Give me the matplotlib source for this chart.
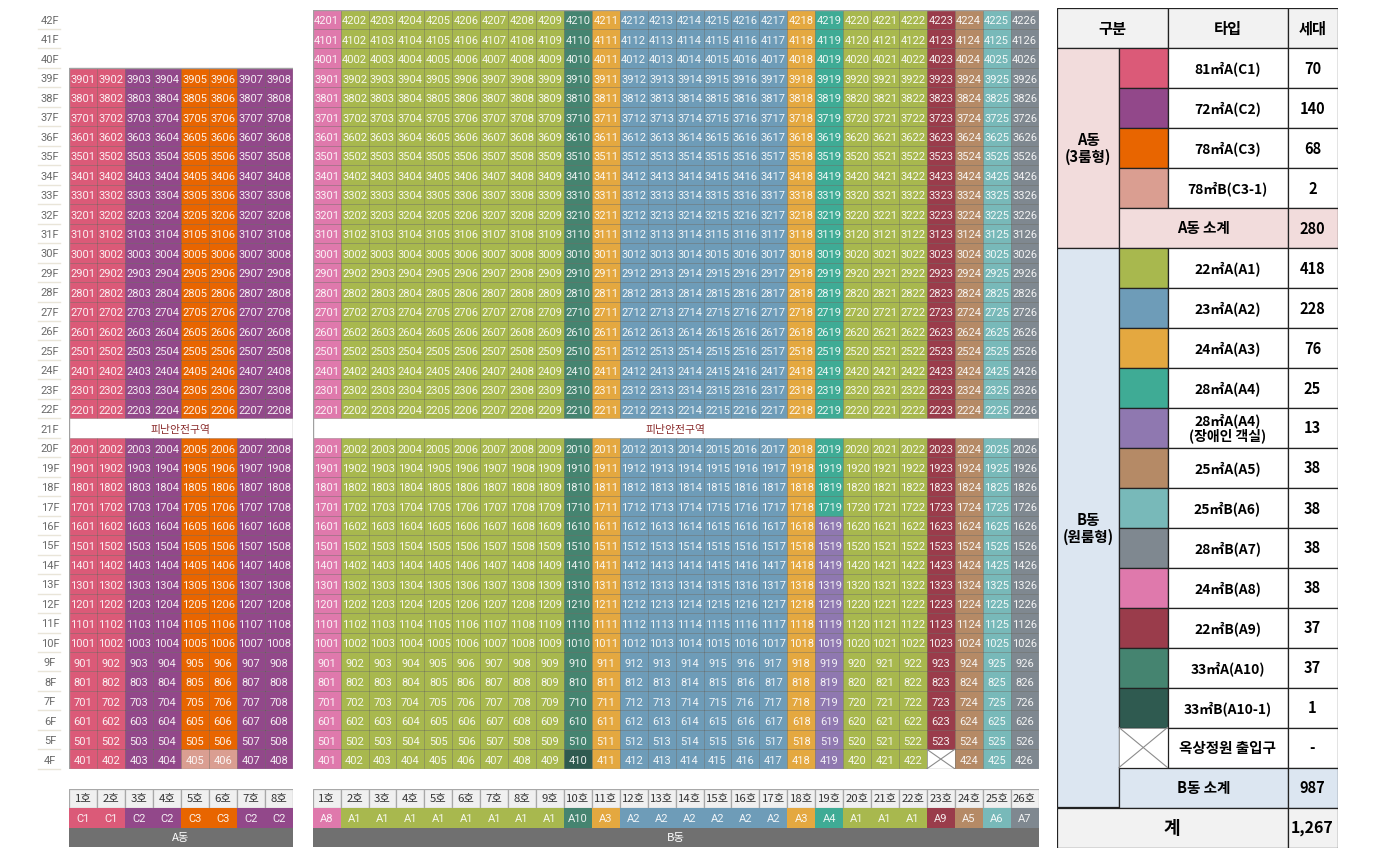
import matplotlib
matplotlib.use("Agg")
import matplotlib.pyplot as plt
from matplotlib.patches import Rectangle

W, H = 1377, 853
KR = ["Noto Sans CJK KR", "DejaVu Sans"]
NUM = ["Roboto", "DejaVu Sans"]

# unit type per column
a_types = ["C1", "C1", "C2", "C2", "C3", "C3", "C2", "C2"]
b_types = ["A8"] + ["A1"] * 8 + ["A10", "A3"] + ["A2"] * 6 + ["A3", "A4"] + ["A1"] * 3 + ["A9", "A5", "A6", "A7"]

# exceptions to the column type
a_special = {405: "C3-1", 406: "C3-1"}
b_special = {410: "A10-1", 423: "X"}
b_col19_low = "A4-d"   # 19호 16F and below

type_colors = {
    "C1": "#DB5A78", "C2": "#92488A", "C3": "#E86500", "C3-1": "#DA9E91",
    "A1": "#A8B84E", "A2": "#6E9CB8", "A3": "#E4A840", "A4": "#3FAB95",
    "A4-d": "#8F78B0", "A5": "#B58A66", "A6": "#78B9B9", "A7": "#7F8890",
    "A8": "#DF79AC", "A9": "#9A3C4B", "A10": "#458470", "A10-1": "#2F5A50",
}

# summary table
a_keys = ["C1", "C2", "C3", "C3-1"]
a_names = ["81㎡A(C1)", "72㎡A(C2)", "78㎡A(C3)", "78㎡B(C3-1)"]
a_counts = ["70", "140", "68", "2"]
b_keys = ["A1", "A2", "A3", "A4", "A4-d", "A5", "A6", "A7", "A8", "A9", "A10", "A10-1", "X"]
b_names = ["22㎡A(A1)", "23㎡A(A2)", "24㎡A(A3)", "28㎡A(A4)", "28㎡A(A4)\n(장애인 객실)",
           "25㎡A(A5)", "25㎡B(A6)", "28㎡B(A7)", "24㎡B(A8)", "22㎡B(A9)",
           "33㎡A(A10)", "33㎡B(A10-1)", "옥상정원 출입구"]
b_counts = ["418", "228", "76", "25", "13", "38", "38", "38", "38", "37", "37", "1", "-"]
a_total = "280"
b_total = "987"
grand_total = "1,267"

TOP, BOTTOM = 10.5, 769.8   # pixel extent of 42F..4F
fig = plt.figure(figsize=(W / 100, H / 100), dpi=100)


def px_axes(x0, y0, x1, y1):
    ax = fig.add_axes([x0 / W, 1 - y1 / H, (x1 - x0) / W, (y1 - y0) / H])
    ax.axis("off")
    return ax


def draw_x(ax, x, y, w, h, lw=0.8):
    ax.add_patch(Rectangle((x, y), w, h, fc="white", ec="#999999", lw=0.6))
    ax.plot([x, x + w], [y, y + h], color="#8c8c8c", lw=lw)
    ax.plot([x, x + w], [y + h, y], color="#8c8c8c", lw=lw)


def draw_block(x0, x1, types, special, top_floor, name):
    ax = px_axes(x0, TOP, x1, BOTTOM)
    ax.set_xlim(0, len(types))
    ax.set_ylim(4, 43)
    for f in range(4, top_floor + 1):
        if f == 21:
            ax.add_patch(Rectangle((0, f), len(types), 1, fc="white", ec="none"))
            ax.text(len(types) / 2, f + 0.47, "피난안전구역", family=KR, fontsize=7.8,
                    color="#8a2b2b", ha="center", va="center")
            continue
        for c, t in enumerate(types):
            unit = f * 100 + c + 1
            t = special.get(unit, t)
            if name == "B" and c == 18 and f <= 16:
                t = b_col19_low
            if t == "X":
                draw_x(ax, c, f, 1, 1)
                continue
            ax.add_patch(Rectangle((c, f), 1, 1, fc=type_colors[t], ec=(0.15, 0.15, 0.1, 0.22), lw=0.7))
            ax.text(c + 0.5, f + 0.45, str(unit), family=NUM, fontsize=8, color="white",
                    alpha=0.9, ha="center", va="center")
    ax.add_patch(Rectangle((0, 4), len(types), top_floor - 3, fc="none", ec="#a0a0a0", lw=1.0))

    # 호 / type / building rows under the block
    ah = px_axes(x0, 789.5, x1, 848)
    ah.set_xlim(0, len(types))
    ah.set_ylim(3, 0)
    for c, t in enumerate(types):
        ah.add_patch(Rectangle((c, 0), 1, 1, fc="#F0F0F0", ec="#a8a8a8", lw=0.9))
        ah.text(c + 0.5, 0.5, f"{c + 1}호", family=KR, fontsize=8.2, color="#333333",
                ha="center", va="center")
        ah.add_patch(Rectangle((c, 1), 1, 1, fc=type_colors[t], ec="none"))
        ah.text(c + 0.5, 1.5, t, family=NUM, fontsize=8, color="white", alpha=0.9,
                ha="center", va="center")
    ah.add_patch(Rectangle((0, 2), len(types), 1, fc="#707070", ec="none"))
    ah.text(len(types) / 2, 2.5, name + "동", family=KR, fontsize=8.2, color="white",
            ha="center", va="center")


# floor labels
af = px_axes(38, TOP, 60, BOTTOM)
af.set_xlim(0, 1)
af.set_ylim(4, 43)
for f in range(4, 43):
    af.text(0.55, f + 0.47, f"{f}F", family=NUM, fontsize=8, color="#6a6a6a", ha="center", va="center")
    af.plot([0, 1], [f, f], color="#E9E5D9", lw=1.0, clip_on=False)

draw_block(69, 292.7, a_types, a_special, 39, "A")
draw_block(312.7, 1038.5, b_types, b_special, 42, "B")

# summary table, one unit of y = one 40 px row
col = [0, 62, 110.5, 230.5, 280.5]
at = px_axes(1057, 8.5, 1337.5, 848.5)
at.set_xlim(0, col[-1])
at.set_ylim(21, 0)
LINE = "#222222"
TS = dict(family=KR, fontsize=10, color="black", ha="center", va="center", weight="bold")


def cell(x0, x1, r0, r1, fc="white", txt=None, **kw):
    at.add_patch(Rectangle((col[x0], r0), col[x1] - col[x0], r1 - r0, fc=fc, ec=LINE, lw=0.9))
    if txt is not None:
        at.text((col[x0] + col[x1]) / 2, (r0 + r1) / 2, txt, **{**TS, **kw})


cell(0, 2, 0, 1, "#F2F2F2", "구분", fontsize=11)
cell(2, 3, 0, 1, "#F2F2F2", "타입", fontsize=11)
cell(3, 4, 0, 1, "#F2F2F2", "세대", fontsize=11)

r = 1
cell(0, 1, r, r + len(a_keys) + 1, "#F2DCDC", "A동\n(3룸형)", fontsize=10.5, linespacing=1.05)
for k, n, v in zip(a_keys, a_names, a_counts):
    cell(1, 2, r, r + 1, type_colors[k])
    cell(2, 3, r, r + 1, "white", n)
    cell(3, 4, r, r + 1, "white", v, fontsize=10.5)
    r += 1
cell(1, 3, r, r + 1, "#F2DCDC", "A동 소계", fontsize=10.5)
cell(3, 4, r, r + 1, "#F2DCDC", a_total, fontsize=10.5)
r += 1

cell(0, 1, r, r + len(b_keys) + 1, "#DCE6F1", "B동\n(원룸형)", fontsize=10.5, linespacing=1.05)
for k, n, v in zip(b_keys, b_names, b_counts):
    if k == "X":
        draw_x(at, col[1], r, col[2] - col[1], 1)
    else:
        cell(1, 2, r, r + 1, type_colors[k])
    cell(2, 3, r, r + 1, "white", n, fontsize=10.5 if k == "X" else 10, linespacing=1.05)
    cell(3, 4, r, r + 1, "white", v, fontsize=10.5)
    r += 1
cell(1, 3, r, r + 1, "#DCE6F1", "B동 소계", fontsize=10.5)
cell(3, 4, r, r + 1, "#DCE6F1", b_total, fontsize=10.5)
r += 1

cell(0, 3, r, r + 1, "#F2F2F2", "계", fontsize=13)
cell(3, 4, r, r + 1, "#F2F2F2", grand_total, fontsize=11.5)

fig.savefig("out.png", dpi=100, facecolor="white")
